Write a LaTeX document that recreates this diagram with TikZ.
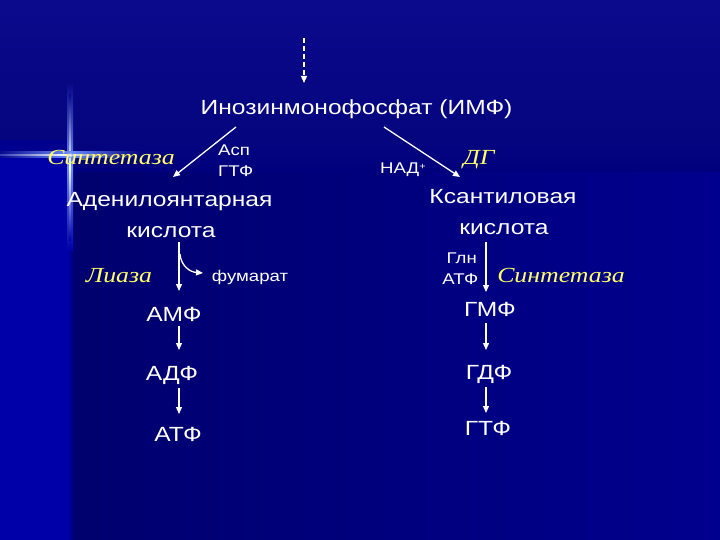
\documentclass[tikz,border=0pt]{standalone}
\usepackage{fontspec}
\setmainfont{Liberation Sans}[FakeStretch=1.2]
\newfontfamily\yel{Liberation Serif Italic}[FakeStretch=1.2]
\usetikzlibrary{arrows.meta}
\definecolor{bgtop}{HTML}{0A0A8C}
\definecolor{bgtopb}{HTML}{05057F}
\definecolor{bgdark}{HTML}{00006E}
\definecolor{bgright}{HTML}{00008E}
\definecolor{bgstrip}{HTML}{0000A8}
\definecolor{glow}{HTML}{6A8CFF}
\definecolor{ylw}{HTML}{FFFF66}
\tikzset{
  main/.style={text=white, inner sep=0pt, font=\fontsize{20.5}{22}\selectfont},
  small/.style={text=white, inner sep=0pt, font=\fontsize{15.5}{17}\selectfont},
  enz/.style={text=ylw, inner sep=0pt, font=\yel\fontsize{21.5}{23}\selectfont},
  arr/.style={draw=white, line width=1.3pt, -{Triangle[length=7pt,width=6pt]}},
}
\begin{document}
\begin{tikzpicture}[x=1pt,y=-1pt]
\useasboundingbox (0,0) rectangle (720,540);
% background
\fill[bgright] (0,0) rectangle (720,540);
\shade[left color=bgdark, right color=bgright] (70,150) rectangle (720,540);
\shade[top color=bgtop, bottom color=bgtopb] (0,0) rectangle (720,140);
\shade[top color=bgtopb, bottom color=bgdark!50!bgright] (70,140) rectangle (720,172);
\fill[bgstrip] (0,155) rectangle (70,540);
\shade[left color=bgstrip, right color=bgdark] (68,155) rectangle (74,540);
% sparkle
\shade[top color=bgtop, bottom color=bgstrip, middle color=glow] (67,85) rectangle (73,250);
\shade[top color=bgtop, bottom color=bgstrip, middle color=white] (69.2,95) rectangle (70.8,240);
\shade[left color=bgtop, right color=bgtopb, middle color=glow] (0,152) rectangle (140,158);
\shade[left color=bgtop!60!glow, right color=bgtopb, middle color=white] (0,154.2) rectangle (130,155.8);
\shade[inner color=white, outer color=glow, opacity=0.8] (70,155) circle (3);

% nodes
\node[main, anchor=base] (imf) at (356.5,115) {Инозинмонофосфат (ИМФ)};
\node[enz, anchor=base] (syn1) at (111,165) {Синтетаза};
\node[small, anchor=base west] (asp) at (218,156) {Асп};
\node[small, anchor=base west] (gtp1) at (218,177) {ГТФ};
\node[small, anchor=base west] (nad) at (380,174) {НАД\raisebox{0.55ex}{\fontsize{9}{9}\selectfont +}};
\node[enz, anchor=base] (dg) at (479,165) {ДГ};
\node[main, anchor=base] (ads1) at (169.5,207) {Аденилоянтарная};
\node[main, anchor=base] (ads2) at (171,237) {кислота};
\node[main, anchor=base] (xmp1) at (503,204) {Ксантиловая};
\node[main, anchor=base] (xmp2) at (504,234) {кислота};
\node[enz, anchor=base] (lia) at (119,282) {Лиаза};
\node[small, anchor=base] (fum) at (250,281) {фумарат};
\node[small, anchor=base east] (gln) at (477,263) {Глн};
\node[small, anchor=base east] (atp1) at (478.5,284) {АТФ};
\node[enz, anchor=base] (syn2) at (561,282) {Синтетаза};
\node[main, anchor=base] (amp) at (174,321) {АМФ};
\node[main, anchor=base] (adp) at (172,380) {АДФ};
\node[main, anchor=base] (atp) at (178,441) {АТФ};
\node[main, anchor=base] (gmp) at (490,316) {ГМФ};
\node[main, anchor=base] (gdp) at (489,379) {ГДФ};
\node[main, anchor=base] (gtp) at (488,435) {ГТФ};

% arrow end points
\coordinate (d0) at (304,38);
\coordinate (d1) at (304,83);
\coordinate (l0) at (236,127);
\coordinate (l1) at (173,177);
\coordinate (r0) at (384,127);
\coordinate (r1) at (460,177);
\coordinate (lv0) at (179,242);
\coordinate (lv1) at (179,291);
\coordinate (c0) at (180,254);
\coordinate (c1) at (203,273);
\coordinate (rv0) at (486,242);
\coordinate (rv1) at (486,292);
\coordinate (la0) at (179,326);
\coordinate (la1) at (179,350);
\coordinate (lb0) at (179,388);
\coordinate (lb1) at (179,414);
\coordinate (ra0) at (486,323);
\coordinate (ra1) at (486,350);
\coordinate (rb0) at (486,387);
\coordinate (rb1) at (486,413);

\draw[arr, dash pattern=on 5pt off 3pt] (d0) -- (d1);
\draw[arr] (l0) -- (l1);
\draw[arr] (r0) -- (r1);
\draw[arr] (lv0) -- (lv1);
\draw[arr] (c0) .. controls (181,266) and (190,272) .. (c1);
\draw[arr] (rv0) -- (rv1);
\draw[arr] (la0) -- (la1);
\draw[arr] (lb0) -- (lb1);
\draw[arr] (ra0) -- (ra1);
\draw[arr] (rb0) -- (rb1);
\end{tikzpicture}
\end{document}
